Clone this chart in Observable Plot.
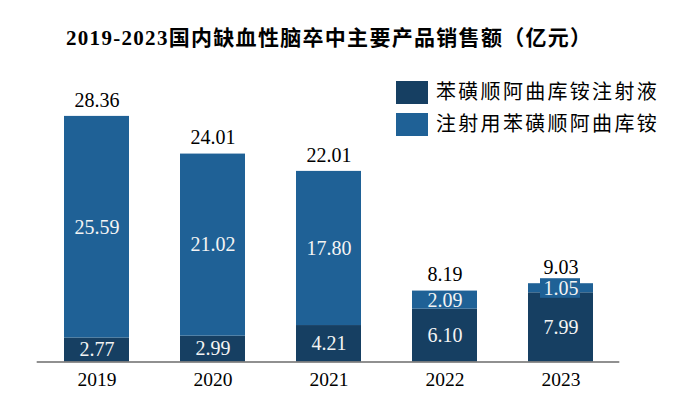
<!DOCTYPE html>
<html>
<head>
<meta charset="utf-8">
<script src="https://cdn.jsdelivr.net/npm/d3@7"></script>
<script src="https://cdn.jsdelivr.net/npm/@observablehq/plot@0.6"></script>
<style>
  html, body { margin: 0; padding: 0; background: #fff; }
  #wrap { position: relative; width: 683px; height: 397px; overflow: hidden; }
  #title { position: absolute; left: 66px; top: 26px; white-space: nowrap;
    font-family: 'Liberation Serif', 'Noto Sans CJK SC', serif; font-weight: bold;
    font-size: 21px; line-height: 24px; letter-spacing: 1.3px; color: #000; }
  #legend { position: absolute; left: 396px; top: 81px;
    font-family: 'Liberation Serif', 'Noto Sans CJK SC', serif; font-size: 20px; color: #000; }
  .row { display: flex; align-items: center; height: 23px; margin-bottom: 8.7px; white-space: nowrap; }
  .sw { width: 32px; height: 23px; margin-right: 8px; flex: none; }
  .lab { letter-spacing: 2.3px; line-height: 23px; }
</style>
</head>
<body>
<div id="wrap">
  <div id="title"></div>
  <div id="legend"></div>
</div>
<script>
const titleText = "2019-2023国内缺血性脑卒中主要产品销售额（亿元）";
const years = ["2019", "2020", "2021", "2022", "2023"];
const seriesNames = ["苯磺顺阿曲库铵注射液", "注射用苯磺顺阿曲库铵"];
const injectionLiquid = [2.77, 2.99, 4.21, 6.10, 7.99];   // 苯磺顺阿曲库铵注射液
const injectionPowder = [25.59, 21.02, 17.80, 2.09, 1.05]; // 注射用苯磺顺阿曲库铵
const totals = [28.36, 24.01, 22.01, 8.19, 9.03];
const colors = ["#163f62", "#1f6196"];

const rows = [];
years.forEach((y, i) => {
  rows.push({year: y, series: seriesNames[0], value: injectionLiquid[i]});
  rows.push({year: y, series: seriesNames[1], value: injectionPowder[i]});
});
const totalRows = years.map((y, i) => ({year: y, total: totals[i]}));

document.getElementById("title").textContent = titleText;
const legend = document.getElementById("legend");
seriesNames.forEach((s, i) => {
  const r = document.createElement("div");
  r.className = "row";
  r.innerHTML = `<div class="sw" style="background:${colors[i]}"></div><span class="lab">${s}</span>`;
  legend.appendChild(r);
});

const thin = (i) => rows[i].value < 1.5;

const chart = Plot.plot({
  width: 683,
  height: 397,
  marginTop: 101.7,
  marginBottom: 35.5,
  marginLeft: 36.7,
  marginRight: 63.7,
  style: {fontFamily: "'Liberation Serif', 'Noto Sans CJK SC', serif", background: "transparent"},
  x: {domain: years, paddingInner: 0.443, paddingOuter: 0.2215, label: null},
  y: {domain: [0, 30], axis: null},
  color: {domain: seriesNames, range: colors},
  marks: [
    Plot.barY(rows, Plot.stackY({x: "year", y: "value", fill: "series", z: "series", order: seriesNames})),
    Plot.barY(rows, Plot.stackY({x: "year", y: "value", fill: "series", z: "series", order: seriesNames,
      insetTop: -5, insetBottom: -5.5, insetLeft: 12, insetRight: 13,
      render: (index, scales, values, dims, ctx, next) => next(index.filter(thin), scales, values, dims, ctx)})),
    Plot.text(rows, Plot.stackY({x: "year", y: "value", z: "series", order: seriesNames,
      text: d => d.value.toFixed(2), fill: "#f4f4f4", fontSize: 20})),
    Plot.text(totalRows, {x: "year", y: "total", text: d => d.total.toFixed(2),
      fill: "black", fontSize: 20, dy: -16}),
    Plot.ruleY([0], {stroke: "#6b6b6b", strokeWidth: 1.5}),
    Plot.axisX({tickSize: 0, tickPadding: 10, fontSize: 19.5, fill: "black", label: null})
  ]
});
document.getElementById("wrap").appendChild(chart);
chart.style.position = "absolute";
chart.style.left = "0";
chart.style.top = "0";
document.getElementById("title").style.zIndex = 2;
legend.style.zIndex = 2;
</script>
</body>
</html>
